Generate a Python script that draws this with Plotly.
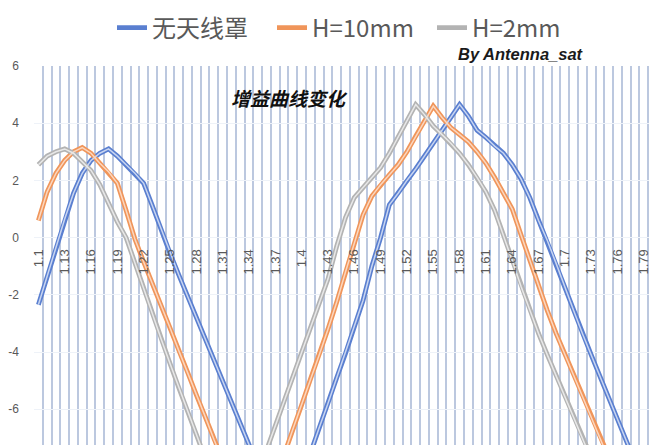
import plotly.graph_objects as go

categories = [round(1.10 + 0.01 * i, 2) for i in range(71)]

tick_values = categories[::3]
tick_labels = ["1.1", "1.13", "1.16", "1.19", "1.22", "1.25", "1.28", "1.31", "1.34",
               "1.37", "1.4", "1.43", "1.46", "1.49", "1.52", "1.55", "1.58", "1.61",
               "1.64", "1.67", "1.7", "1.73", "1.76", "1.79"]

series_names = ["无天线罩", "H=10mm", "H=2mm"]

no_radome = [-2.35, -1.35, -0.35, 0.65, 1.55, 2.25, 2.7, 2.95, 3.1, 2.85,
             2.55, 2.25, 1.9, 1.1, 0.25, -0.55, -1.3, -2.05, -2.8, -3.55,
             -4.3, -5.05, -5.8, -6.55, -7.3, -8.05, -8.8, -9.55, -10.2, -9.3,
             -8.4, -7.5, -6.65, -5.8, -4.9, -4.05, -3.15, -2.2, -1.0, 0.0,
             1.15, 1.55, 2.0, 2.4, 2.85, 3.3, 3.75, 4.2, 4.65, 4.25,
             3.75, 3.5, 3.2, 2.95, 2.55, 2.05, 1.4, 0.6, -0.1, -0.9,
             -1.75, -2.55, -3.35, -4.1, -4.85, -5.6, -6.35, -7.1, -7.85, -8.6,
             -9.35]

h_10mm = [0.6, 1.6, 2.25, 2.7, 3.0, 3.15, 2.95, 2.6, 2.3, 1.9,
          0.95, -0.05, -0.85, -1.6, -2.4, -3.15, -3.95, -4.7, -5.5, -6.25,
          -7.05, -7.8, -8.55, -9.3, -10.05, -10.2, -9.35, -8.45, -7.6, -6.7,
          -5.85, -4.95, -4.1, -3.2, -2.25, -1.2, -0.2, 0.8, 1.45, 1.85,
          2.2, 2.55, 3.0, 3.55, 4.1, 4.6, 4.2, 3.85, 3.6, 3.35,
          3.0, 2.6, 2.1, 1.55, 1.0, 0.1, -0.8, -1.7, -2.55, -3.35,
          -4.1, -4.85, -5.6, -6.35, -7.1, -7.85, -8.55, -9.2, -9.8, -10.3,
          -10.6]

h_2mm = [2.55, 2.85, 3.0, 3.1, 2.95, 2.65, 2.35, 1.85, 1.2, 0.55,
         0.0, -0.9, -1.8, -2.7, -3.55, -4.4, -5.25, -6.05, -6.9, -7.7,
         -8.5, -9.35, -10.15, -10.0, -9.15, -8.3, -7.45, -6.6, -5.7, -4.85,
         -4.0, -3.15, -2.3, -1.45, -0.3, 0.7, 1.4, 1.75, 2.1, 2.45,
         2.95, 3.5, 4.1, 4.65, 4.3, 3.9, 3.6, 3.3, 2.95, 2.55,
         2.1, 1.6, 0.95, 0.1, -0.8, -1.7, -2.55, -3.35, -4.1, -4.85,
         -5.6, -6.35, -7.1, -7.85, -8.55, -9.2, -9.8, -10.2, -10.4, -10.5,
         -10.6]

series_values = [no_radome, h_10mm, h_2mm]
outer_colors = ["#5a7fd0", "#f0955a", "#b3b3b3"]
inner_colors = ["#c8d5f1", "#fbd7bf", "#e8e8e8"]

y_min, y_max = -7.25, 6.0

# the page body has an 8px margin, so figure coordinates = screen - 8
PL, PT, PW, PH = 25.6, 58.0, 623.4, 379.0

fig = go.Figure()
for name, vals, oc in zip(series_names, series_values, outer_colors):
    fig.add_trace(go.Scatter(x=categories, y=vals, mode="lines", name=name,
                             line=dict(color=oc, width=4.8), hoverinfo="skip"))
for name, vals, ic in zip(series_names, series_values, inner_colors):
    fig.add_trace(go.Scatter(x=categories, y=vals, mode="lines", name=name,
                             line=dict(color=ic, width=1.5), showlegend=False,
                             hoverinfo="skip"))

zero_pos = (0 - y_min) / (y_max - y_min)

fig.update_layout(
    width=657, height=445,
    margin=dict(l=PL, r=657 - PL - PW, t=PT, b=445 - PT - PH, autoexpand=False),
    paper_bgcolor="white", plot_bgcolor="white",
    showlegend=True,
    legend=dict(orientation="h", xref="container", yref="container",
                x=104 / 657, y=1 - 20 / 445, xanchor="left", yanchor="middle",
                font=dict(size=24, color="#595959", family="Noto Sans CJK SC"),
                itemwidth=30, entrywidthmode="pixels", entrywidth=115,
                bgcolor="rgba(0,0,0,0)"),
    xaxis=dict(range=[1.095, 1.805], anchor="free", position=zero_pos,
               automargin=False,
               tickmode="array", tickvals=tick_values, ticktext=tick_labels,
               tickangle=-90, ticks="", showgrid=False, zeroline=False,
               showline=False, ticklabelstandoff=8,
               tickfont=dict(size=13, color="#595959", family="Liberation Sans"),
               minor=dict(tick0=1.095, dtick=0.01, showgrid=True,
                          gridcolor="#bcc8df", gridwidth=2, ticks="")),
    yaxis=dict(range=[y_min, y_max], tickmode="array", automargin=False,
               tickvals=[-6, -4, -2, 0, 2, 4, 6],
               ticktext=["-6", "-4", "-2", "0", "2", "4", "6"],
               showgrid=True, gridcolor="#eef2f8", gridwidth=1,
               zeroline=False, showline=False, ticks="",
               ticklabelstandoff=14,
               tickfont=dict(size=12, color="#595959", family="Liberation Sans")),
    annotations=[
        dict(text="<b><i>By Antenna_sat</i></b>", xref="paper", yref="paper",
             x=(513 - PL) / PW, y=1 + (PT - 46) / PH, xanchor="center",
             yanchor="middle", showarrow=False,
             font=dict(size=16.5, color="#1a1a1a", family="Liberation Sans")),
        dict(text="<b><i>增益曲线变化</i></b>", xref="paper", yref="paper",
             x=(281 - PL) / PW, y=1 - (90 - PT) / PH, xanchor="center",
             yanchor="middle", showarrow=False,
             font=dict(size=19, color="#111111", family="Noto Sans CJK SC")),
    ],
)

fig.write_html("out.html")
